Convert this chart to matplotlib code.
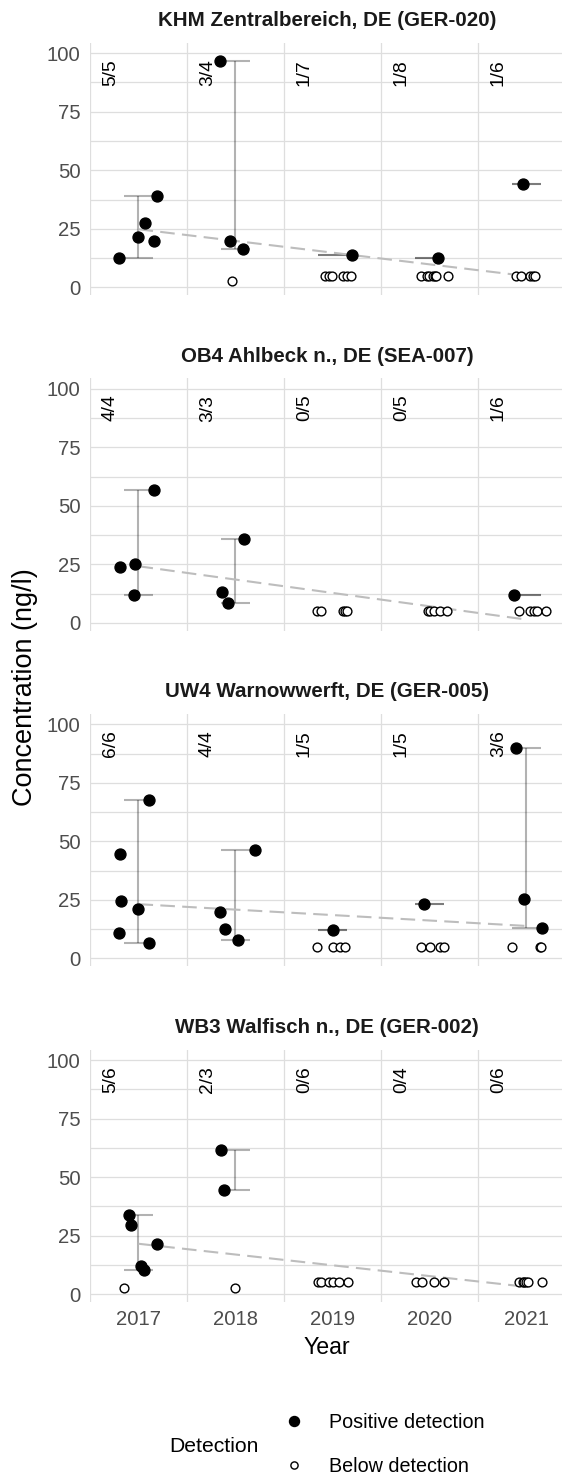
import numpy as np
import matplotlib
matplotlib.use("Agg")
import matplotlib.pyplot as plt
from matplotlib.lines import Line2D

plt.rcParams['font.family'] = ['Liberation Sans', 'DejaVu Sans']

# --- data ---
years = [2017, 2018, 2019, 2020, 2021]

stations = ["KHM Zentralbereich, DE (GER-020)",
            "OB4 Ahlbeck n., DE (SEA-007)",
            "UW4 Warnowwerft, DE (GER-005)",
            "WB3 Walfisch n., DE (GER-002)"]

counts = [["5/5", "3/4", "1/7", "1/8", "1/6"],
          ["4/4", "3/3", "0/5", "0/5", "1/6"],
          ["6/6", "4/4", "1/5", "1/5", "3/6"],
          ["5/6", "2/3", "0/6", "0/4", "0/6"]]

# positive detections: year, jitter (fraction of a year), concentration
pos_year = [[2017, 2017, 2017, 2017, 2017, 2018, 2018, 2018, 2019, 2020, 2021],
            [2017, 2017, 2017, 2017, 2018, 2018, 2018, 2021],
            [2017, 2017, 2017, 2017, 2017, 2017, 2018, 2018, 2018, 2018, 2019, 2020, 2021, 2021, 2021],
            [2017, 2017, 2017, 2017, 2017, 2018, 2018]]
pos_jit = [[-0.20, -0.01, 0.07, 0.16, 0.19, -0.16, -0.06, 0.08, 0.20, 0.09, -0.04],
           [-0.19, -0.04, -0.05, 0.16, -0.14, -0.08, 0.09, -0.13],
           [-0.19, -0.18, -0.20, 0.00, 0.11, 0.11, -0.16, -0.11, 0.03, 0.20, 0.01, -0.06, -0.11, -0.03, 0.16],
           [-0.10, -0.08, 0.19, 0.03, 0.06, -0.15, -0.12]]
pos_val = [[12.7, 21.5, 27.6, 19.8, 39.0, 96.7, 19.9, 16.2, 13.8, 12.7, 44.0],
           [24.0, 25.0, 12.1, 56.8, 13.3, 8.6, 35.8, 12.1],
           [44.5, 24.4, 11.0, 21.1, 6.7, 67.7, 19.9, 12.8, 7.9, 46.3, 12.2, 23.4, 90.0, 25.4, 12.9],
           [34.0, 29.4, 21.5, 11.8, 10.1, 61.6, 44.4]]

# below detection
neg_year = [[2018, 2019, 2019, 2019, 2019, 2019, 2019,
             2020, 2020, 2020, 2020, 2020, 2020, 2020, 2021, 2021, 2021, 2021, 2021],
            [2019, 2019, 2019, 2019, 2019, 2020, 2020, 2020, 2020, 2020, 2021, 2021, 2021, 2021, 2021],
            [2019, 2019, 2019, 2019, 2020, 2020, 2020, 2020, 2021, 2021, 2021],
            [2017, 2018, 2019, 2019, 2019, 2019, 2019, 2019, 2020, 2020, 2020, 2020,
             2021, 2021, 2021, 2021, 2021, 2021]]
neg_jit = [[-0.04, -0.08, -0.04, -0.01, 0.11, 0.15, 0.19,
            -0.09, -0.03, 0.00, 0.04, 0.06, 0.07, 0.19, -0.11, -0.06, 0.04, 0.07, 0.09],
           [-0.16, -0.12, 0.11, 0.13, 0.15, -0.02, 0.01, 0.05, 0.11, 0.18, -0.08, 0.04, 0.08, 0.11, 0.20],
           [-0.16, 0.01, 0.08, 0.13, -0.09, 0.01, 0.11, 0.15, -0.15, 0.14, 0.15],
           [-0.15, -0.01, -0.15, -0.12, -0.04, 0.01, 0.07, 0.16, -0.14, -0.08, 0.05, 0.15,
            -0.08, -0.04, -0.03, 0.00, 0.02, 0.16]]
neg_val = [[2.5] + [5] * 18,
           [5] * 15,
           [5] * 11,
           [2.5, 2.5] + [5] * 16]

# trend line 2017 -> 2021
trend_start = [24.8, 24.2, 23.2, 21.5]
trend_end = [4.8, 1.4, 13.9, 3.1]

# --- figure ---
W, H = 562, 1479
fig = plt.figure(figsize=(W / 100, H / 100), dpi=100)

left_px, right_px = 90, 562
top0, panel_h, step = 42.7, 252.3, 335.6

for i in range(4):
    top = top0 + step * i
    ax = fig.add_axes([left_px / W, 1 - (top + panel_h) / H, (right_px - left_px) / W, panel_h / H])
    ax.set_xlim(2016.5, 2016.5 + (right_px - left_px) / 97)
    ax.set_ylim(-3.3, 104.5)
    for s in ax.spines.values():
        s.set_visible(False)

    # grid
    for g in np.arange(0, 100.1, 12.5):
        ax.axhline(g, color='#dedede', lw=0.9, zorder=0)
    for y in years:
        ax.axvline(y - 0.5, color='#dedede', lw=0.9, zorder=0)

    py = np.array(pos_year[i])
    pv = np.array(pos_val[i])
    px = py + np.array(pos_jit[i])
    nx = np.array(neg_year[i]) + np.array(neg_jit[i])

    # range bars of positives per year
    for y in years:
        v = pv[py == y]
        if len(v) == 0:
            continue
        ax.vlines(y, v.min(), v.max(), color='black', alpha=0.3, lw=1.5, zorder=1)
        ax.hlines([v.min(), v.max()], y - 0.145, y + 0.145, color='black', alpha=0.3, lw=1.5, zorder=1)

    ax.plot([years[0], years[-1]], [trend_start[i], trend_end[i]], color='#bdbdbd', lw=1.5,
            linestyle=(0, (7, 3.5)), zorder=2)

    ax.scatter(nx, neg_val[i], s=40, facecolors='white', edgecolors='black', linewidths=1.0, zorder=3)
    ax.scatter(px, pv, s=62, color='black', zorder=4)

    for y, c in zip(years, counts[i]):
        ax.text(y - 0.29, 97.5, c, rotation=90, ha='center', va='top', fontsize=13.8, color='black')

    ax.set_yticks([0, 25, 50, 75, 100])
    ax.tick_params(axis='y', length=0, pad=7, labelsize=14.6, labelcolor='#4d4d4d')
    ax.set_xticks(years)
    if i == 3:
        ax.tick_params(axis='x', length=0, pad=6, labelsize=14.6, labelcolor='#4d4d4d')
    else:
        ax.tick_params(axis='x', length=0, labelbottom=False)

    fig.text(327 / W, 1 - (20.7 + step * i) / H, stations[i], ha='center', va='center',
             fontsize=14.8, fontweight='bold', color='#1a1a1a')

fig.text(25 / W, 1 - 687 / H, 'Concentration (ng/l)', rotation=90, ha='center', va='center', fontsize=19.5)
fig.text(327 / W, 1 - 1347 / H, 'Year', ha='center', va='center', fontsize=16.7)

# legend
fig.text(169 / W, 1 - 1446 / H, 'Detection', ha='left', va='center', fontsize=15.2)
handles = [Line2D([], [], marker='o', linestyle='none', markersize=7.2, color='black'),
           Line2D([], [], marker='o', linestyle='none', markersize=5.2, markerfacecolor='white',
                  markeredgecolor='black', markeredgewidth=1.0)]
fig.legend(handles, ['Positive detection', 'Below detection'], loc='center left',
           bbox_to_anchor=(284 / W, 1 - 1444.7 / H), frameon=False, fontsize=14.2,
           handlelength=1.0, handletextpad=1.3, labelspacing=1.25, borderpad=0, borderaxespad=0)

fig.savefig('out.png', dpi=100)
